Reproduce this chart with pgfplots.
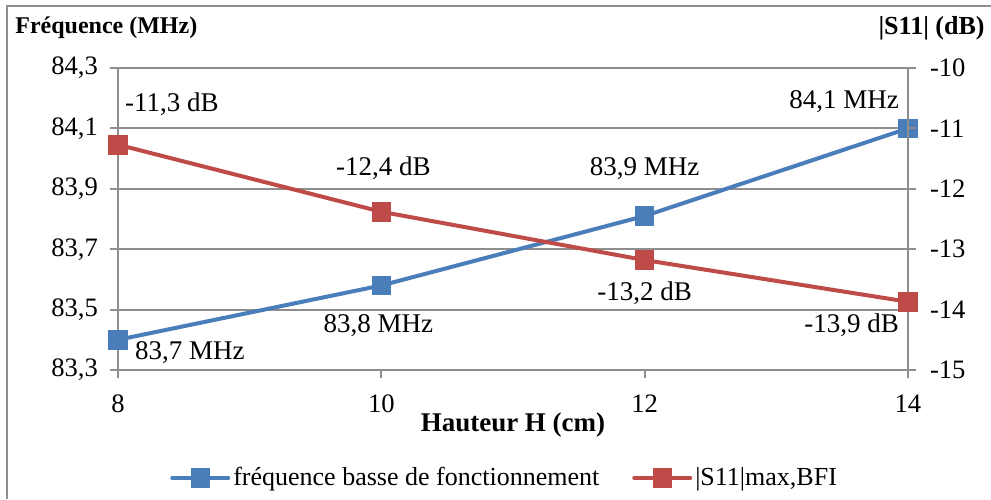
\documentclass[border=0pt]{standalone}
\usepackage{fontspec}
\setmainfont{Liberation Serif}
\usepackage{pgfplots}
\pgfplotsset{compat=1.18}
\definecolor{serBlue}{HTML}{4A7EBB}
\definecolor{serRed}{HTML}{BE4B48}
\definecolor{lineGray}{HTML}{8E8E8E}
\tikzset{lab/.style={font=\fontsize{13.5pt}{16pt}\selectfont}}
\begin{document}
\begin{tikzpicture}
\pgfplotsset{
  base/.style={width=395pt,height=151pt,scale only axis,
    at={(0,0)},anchor=south west,
    xmin=8,xmax=14,clip=false,
    /pgf/number format/assume math mode=true,
    tick label style={font=\rmfamily\fontsize{13.3pt}{15pt}\selectfont},
    axis line style={draw=lineGray,line width=1pt},
    major tick length=4pt,tick align=outside,
    every tick/.style={lineGray,line width=1pt},
    legend image code/.code={\draw[mark repeat=2,mark phase=2,line cap=round]
      plot coordinates {(0pt,0pt) (14pt,0pt) (28pt,0pt)};}},
  serie/.style={line width=2pt,mark=square*,mark size=4.6pt,
    mark options={solid,line width=0.4pt}},
}
% axe gauche : frequence
\begin{axis}[base,
  ymin=83.3,ymax=84.3,
  ytick={83.3,83.5,83.7,83.9,84.1,84.3},
  xtick={8,10,12,14},
  tick pos=left,
  ymajorgrids,grid style={lineGray,line width=1pt},
  yticklabel style={xshift=-2.5pt,/pgf/number format/.cd,fixed,fixed zerofill,precision=1,use comma},
  xticklabel style={yshift=-5pt},
]
\addplot[serie,color=serBlue] coordinates {(8,83.40) (10,83.58) (12,83.81) (14,84.10)};
\node[lab,anchor=west] at ([shift={(5pt,-6.5pt)}]axis cs:8,83.40) {83,7 MHz};
\node[lab] at ([shift={(-1.5pt,-20pt)}]axis cs:10,83.58) {83,8 MHz};
\node[lab] at ([shift={(0pt,23.5pt)}]axis cs:12,83.81) {83,9 MHz};
\node[lab,anchor=east] at ([shift={(-1pt,13.5pt)}]axis cs:14,84.10) {84,1 MHz};
\node[anchor=center,font=\fontsize{13.5pt}{16pt}\selectfont\bfseries] at ([yshift=-27.5pt]rel axis cs:0.5,0) {Hauteur H (cm)};
\node[anchor=west,inner sep=0pt,font=\fontsize{12pt}{14pt}\selectfont\bfseries] at (-51.5pt,171pt) {Fréquence (MHz)};
\node[anchor=east,inner sep=0pt,font=\fontsize{13pt}{15pt}\selectfont\bfseries] at (433.5pt,171pt) {|S11| (dB)};
\end{axis}
% axe droit : |S11|
\begin{axis}[base,
  ymin=-15,ymax=-10,
  ytick={-15,-14,-13,-12,-11,-10},
  axis y line*=right,axis x line=none,
  yticklabel style={xshift=3.5pt},
  legend columns=2,
  legend style={at={(0.49,-0.3576)},anchor=center,draw=none,fill=none,
    font=\fontsize{13pt}{15pt}\selectfont,
    nodes={inner sep=1.5pt},
    /tikz/every even column/.append style={column sep=15pt}},
  legend cell align=left,
]
\addlegendimage{serie,color=serBlue}
\addlegendentry{fréquence basse de fonctionnement}
\addplot[serie,color=serRed] coordinates {(8,-11.27) (10,-12.38) (12,-13.18) (14,-13.87)};
\addlegendentry{|S11|max,BFI}
\node[lab,anchor=west] at ([shift={(0pt,20.5pt)}]axis cs:8,-11.27) {-11,3 dB};
\node[lab] at ([shift={(1pt,22pt)}]axis cs:10,-12.38) {-12,4 dB};
\node[lab] at ([shift={(0pt,-16.5pt)}]axis cs:12,-13.18) {-13,2 dB};
\node[lab,anchor=east] at ([shift={(-1pt,-11.5pt)}]axis cs:14,-13.87) {-13,9 dB};
\end{axis}
\draw[lineGray,line width=1pt] (-55.5pt,-64.5pt) -- (-55.5pt,182pt) -- (436.5pt,182pt);
\pgfresetboundingbox
\path (-59pt,-64.5pt) rectangle (436.5pt,185pt);
\end{tikzpicture}
\end{document}
